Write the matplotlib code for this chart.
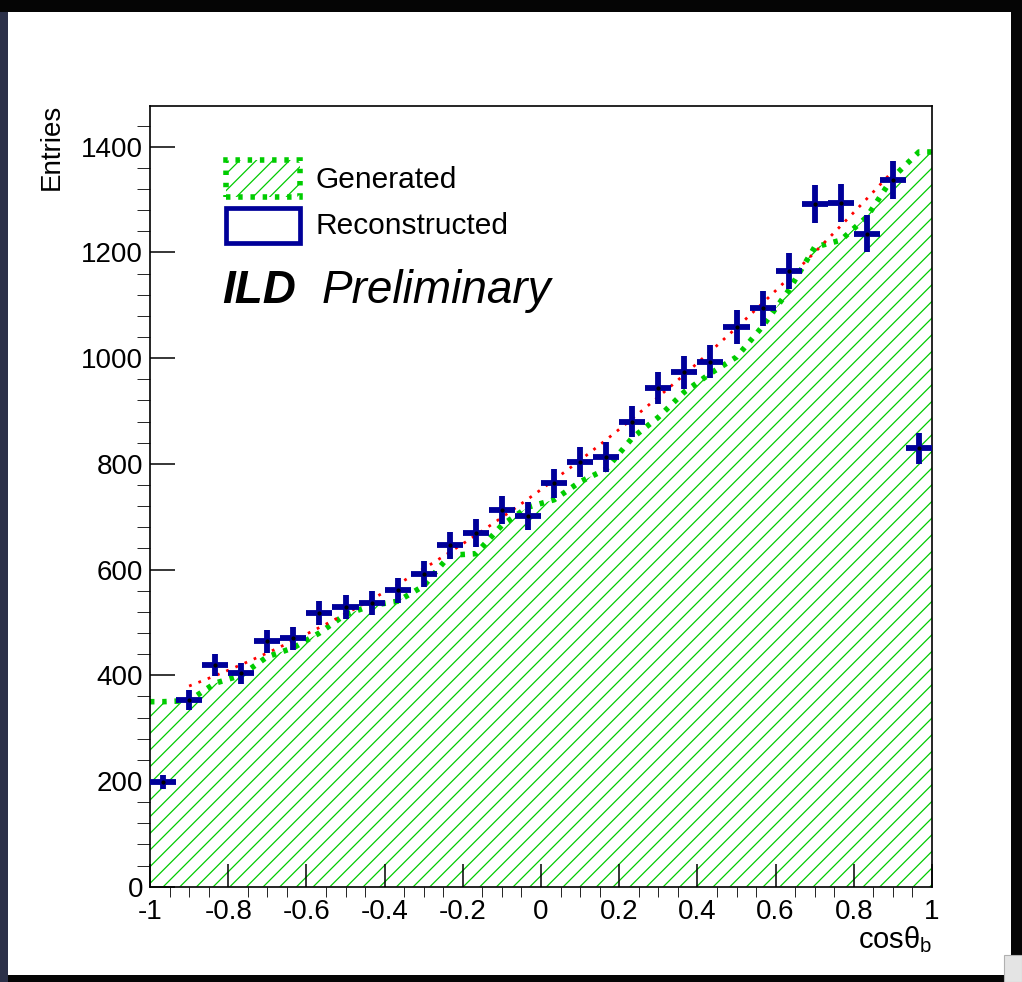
import numpy as np
import matplotlib
matplotlib.use('Agg')
import matplotlib.pyplot as plt
from matplotlib.patches import Rectangle
from matplotlib.ticker import MultipleLocator, FuncFormatter

plt.rcParams['font.family'] = ['Liberation Sans', 'DejaVu Sans']
plt.rcParams['mathtext.fontset'] = 'custom'
plt.rcParams['mathtext.rm'] = 'Liberation Sans'
plt.rcParams['mathtext.it'] = 'Liberation Sans:italic'
plt.rcParams['axes.unicode_minus'] = False
plt.rcParams['hatch.linewidth'] = 0.9

# 30 bins in cos(theta_b)
bin_edges = np.linspace(-1, 1, 31)
centers = 0.5 * (bin_edges[1:] + bin_edges[:-1])
half_w = 0.5 * (bin_edges[1] - bin_edges[0])

generated = [350, 352, 385, 400, 435, 452, 480, 515, 532, 540,
             569, 627, 630, 684, 718, 732, 766, 790, 849, 888,
             936, 971, 1002, 1060, 1128, 1210, 1223, 1267, 1342, 1390]
reconstructed = [198, 353, 420, 404, 464, 470, 517, 529, 537, 561,
                 591, 646, 669, 712, 701, 763, 803, 813, 880, 943,
                 973, 993, 1059, 1094, 1165, 1291, 1294, 1235, 1337, 829]

green = '#00cc00'
blue = '#000099'

fig = plt.figure(figsize=(10.22, 9.82), dpi=100, facecolor='white')

# dark window frame round the canvas
for x0, y0, w, h, c in [(0, 0, 1, 7 / 982, '#050505'),
                        (0, 0, 8 / 1022, 1, '#2b3048'),
                        (1 - 11 / 1022, 0, 11 / 1022, 1, '#050505'),
                        (0, 1 - 12 / 982, 1, 12 / 982, '#050505')]:
    fig.patches.append(Rectangle((x0, y0), w, h, transform=fig.transFigure,
                                 facecolor=c, edgecolor='none', zorder=-5))
fig.patches.append(Rectangle((1004 / 1022, 0), 18 / 1022, 27 / 982,
                             transform=fig.transFigure, facecolor='#e4e4e4',
                             edgecolor='#b0b0b0', lw=0.8, zorder=-4))

ax = fig.add_axes([150 / 1022, 1 - 886.7 / 982, 782 / 1022, 781 / 982])

# generated: hatched area under a dotted curve
gx = np.concatenate([[-1], centers, [1]])
gy = np.concatenate([[generated[0]], generated, [generated[-1]]])
ax.fill_between(gx, 0, gy, facecolor='none', edgecolor=green, linewidth=0,
                hatch='//', zorder=1)
ax.plot(gx, gy, color=green, lw=4.0, linestyle=(0, (0.8, 1.4)), zorder=2)

# quadratic fit to the reconstructed spectrum
rec = np.array(reconstructed, dtype=float)
sel = (centers > -0.91) & (centers < 0.91)
coef = np.polyfit(centers[sel], rec[sel], 2, w=1 / np.sqrt(rec[sel]))
fx = np.linspace(-0.9, 0.9, 200)
ax.plot(fx, np.polyval(coef, fx), color='red', lw=2.0,
        linestyle=(0, (1, 2.6)), zorder=3)

ax.errorbar(centers, rec, xerr=half_w, yerr=np.sqrt(rec), fmt='o', ms=2,
            mfc='black', mec='black', ecolor=blue, elinewidth=4.2, capsize=0,
            zorder=4)

ax.set_xlim(-1, 1)
ax.set_ylim(0, 1477.5)
ax.xaxis.set_major_locator(MultipleLocator(0.2))
ax.xaxis.set_minor_locator(MultipleLocator(0.05))
ax.yaxis.set_major_locator(MultipleLocator(200))
ax.yaxis.set_minor_locator(MultipleLocator(40))
ax.xaxis.set_major_formatter(FuncFormatter(lambda v, p: '%g' % round(v, 6)))
ax.tick_params(direction='in', top=False, right=False, labelsize=20,
               width=1.1, color='black')
ax.tick_params(axis='x', which='major', length=16.5, pad=9)
ax.tick_params(axis='x', which='minor', length=7.2)
ax.tick_params(axis='y', which='major', length=18, pad=5)
ax.tick_params(axis='y', which='minor', length=9.4)
for s in ax.spines.values():
    s.set_linewidth(1.2)

ax.text(1.0, -0.0785, r'$\mathrm{cos\theta_{b}}$', transform=ax.transAxes,
        ha='right', va='baseline', fontsize=21)
fig.text(52 / 1022, 1 - 104 / 982, 'Entries', rotation=90, ha='center',
         va='top', fontsize=20)

# legend
ax.add_patch(Rectangle((0.0972, 0.883), 0.0946, 0.047, transform=ax.transAxes,
                       facecolor='white', edgecolor=green, hatch='//', lw=4.0,
                       linestyle=(0, (0.8, 1.4)), zorder=5))
ax.add_patch(Rectangle((0.0972, 0.824), 0.0946, 0.045, transform=ax.transAxes,
                       facecolor='white', edgecolor=blue, lw=3.4, zorder=5))
ax.text(0.211, 0.905, 'Generated', transform=ax.transAxes, va='center',
        fontsize=21.5)
ax.text(0.211, 0.846, 'Reconstructed', transform=ax.transAxes, va='center',
        fontsize=21.5)
ax.text(0.092, 0.748, 'ILD', transform=ax.transAxes, va='baseline',
        fontsize=33, fontweight='bold', fontstyle='italic')
ax.text(0.220, 0.748, 'Preliminary', transform=ax.transAxes, va='baseline',
        fontsize=33, fontstyle='italic')

fig.savefig('out.png', dpi=100, facecolor='white')
